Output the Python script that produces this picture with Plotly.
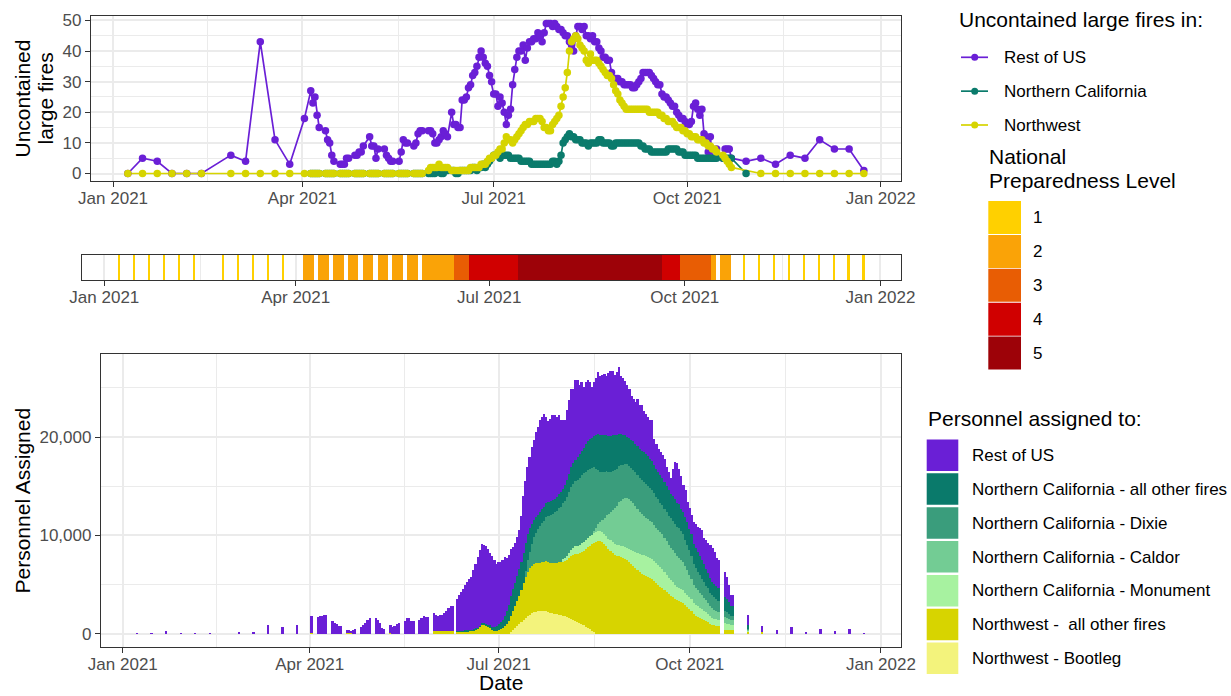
import pandas as pd
import plotly.graph_objects as go

W, H = 1231, 696
FONT = "Liberation Sans, Arial, sans-serif"

# ---------------- report dates ----------------
early_report_dates = ["2021-01-08", "2021-01-15", "2021-01-22", "2021-01-29", "2021-02-05",
                      "2021-02-12", "2021-02-26", "2021-03-05", "2021-03-12", "2021-03-19",
                      "2021-03-26", "2021-04-02"]
spring_report_span = ("2021-04-05", "2021-05-28")            # weekdays
summer_report_spans = [("2021-05-31", "2021-06-09"),          # daily
                       ("2021-06-11", "2021-10-15")]          # daily
autumn_report_span = ("2021-10-18", "2021-10-22")            # weekdays
late_report_dates = ["2021-10-29", "2021-11-05", "2021-11-12", "2021-11-19", "2021-11-26",
                     "2021-12-03", "2021-12-10", "2021-12-17", "2021-12-24"]

report_dates = (list(pd.to_datetime(early_report_dates))
                + list(pd.bdate_range(*spring_report_span))
                + list(pd.date_range(*summer_report_spans[0]))
                + list(pd.date_range(*summer_report_spans[1]))
                + list(pd.bdate_range(*autumn_report_span))
                + list(pd.to_datetime(late_report_dates)))


def flat(*parts):
    out = []
    for p in parts:
        out.extend(p)
    return out


# ---------------- uncontained large fires ----------------
rest_fires = flat(
    [0, 5, 4, 0, 0, 0, 6, 4, 43, 11, 3, 18],
    [27, 23, 25, 19, 15, 14, 11, 10, 6, 4, 3, 3, 3, 5, 5, 6, 6, 7, 7, 9,
     12, 9, 9, 5, 8, 8, 6, 5, 4, 4, 4, 7, 11, 10, 10, 9, 10, 13, 14, 14],
    [14, 14, 13, 10, 10, 11, 12, 14, 13, 12,
     20, 16, 16, 15, 15, 24, 24, 25, 28, 29,
     32, 33, 35, 38, 40, 38, 36, 35, 32, 30,
     26, 26, 22, 25, 23, 20, 16, 19, 21, 29,
     34, 38, 40, 40, 42, 37, 41, 43, 43, 44,
     44, 46, 45, 43, 46, 49, 49, 49, 48, 49,
     48, 47, 47, 46, 45, 45, 43, 42, 40, 45,
     48, 48, 47, 48, 45, 45, 44, 45, 43, 43,
     41, 40, 38, 38, 37, 37, 33, 31, 31, 31,
     30, 30, 29, 29, 29, 29, 28, 28, 29, 30,
     31, 33, 33, 33, 33, 32, 31, 30, 29, 29,
     26, 25, 25, 24, 23, 22, 22, 20, 19, 18,
     18, 17, 16, 16, 17, 22, 23, 21, 19, 21,
     13, 12, 7, 12, 5, 5, 8,
     5, 8, 8, 8, 5],
    [4, 5, 3, 6, 5, 11, 8, 8, 1])

nc_fires = flat(
    [None] * 12,
    [0] * 40,
    [0, 0, 0, 0, 1, 1, 0, 0, 1, 1,
     1, 1, 0, 0, 1, 1, 1, 1, 1, 1,
     2, 2, 1, 2, 2, 3, 2, 3, 4, 5,
     6, 6, 6, 5, 6, 6, 6, 6, 5, 5,
     5, 5, 5, 4, 4, 4, 4, 4, 3, 3,
     3, 3, 3, 3, 3, 3, 3, 3, 4, 4,
     3, 4, 6, 10, 11, 12, 13, 12, 12, 11,
     11, 11, 10, 10, 10, 9, 10, 10, 10, 10,
     11, 11, 10, 10, 10, 10, 9, 9, 10, 10,
     10, 10, 10, 10, 10, 10, 10, 10, 10, 10,
     9, 9, 8, 8, 8, 7, 7, 7, 7, 7,
     7, 7, 7, 8, 8, 8, 8, 8, 7, 7,
     7, 6, 6, 6, 6, 6, 6, 5, 5, 5,
     5, 5, 5, 5, 5, 5, 5,
     5, 5, 5, 5, 5],
    [0] + [None] * 8)

nw_fires = flat(
    [0] * 12,
    [0] * 40,
    [1, 2, 2, 2, 2, 3, 2, 2, 2, 2,
     1, 1, 1, 1, 1, 1, 1, 1, 1, 2,
     2, 2, 2, 2, 3, 3, 3, 4, 5, 5,
     6, 6, 7, 8, 8, 10, 12, 11, 11, 10,
     11, 12, 13, 14, 15, 16, 16, 17, 17, 17,
     18, 18, 18, 17, 15, 15, 14, 14, 16, 17,
     18, 19, 22, 25, 28, 33, 40, 43, 44, 45,
     44, 42, 41, 40, 37, 36, 39, 37, 37, 37,
     36, 35, 34, 33, 32, 32, 31, 29, 27, 26,
     24, 23, 22, 21, 21, 21, 21, 21, 21, 21,
     21, 21, 21, 21, 20, 20, 20, 20, 20, 19,
     19, 18, 18, 17, 17, 17, 16, 15, 15, 15,
     14, 14, 13, 13, 12, 12, 12, 11, 11, 11,
     10, 10, 9, 9, 8, 8, 7,
     6, 5, 4, 3, 2],
    [None] + [0] * 8)

fire_names = ["Rest of US", "Northern California", "Northwest"]
fire_colors = ["#6A1FD6", "#0B7B6C", "#D6D400"]
fire_values = [rest_fires, nc_fires, nw_fires]

# ---------------- personnel assigned ----------------
staff_bootleg = flat(
    [0] * 12, [0] * 40,
    [0] * 30,
    [0, 0, 0, 0, 0, 0, 200, 400, 600, 800,
     1000, 1200, 1400, 1600, 1800, 1950, 2100, 2200, 2250, 2270,
     2270, 2270, 2270, 2270, 2200, 2150, 2100, 2050, 2000, 1950,
     1900, 1850, 1800, 1700, 1600, 1450, 1350, 1250, 1150, 1050,
     950, 850, 700, 600, 450, 300, 150, 0, 0, 0],
    [0] * 62,
    [0] * 9)

staff_nw_other = flat(
    [0, 0, 0, 0, 0, 0, 0, 0, 0, 0, 0, 80],
    [0, 0, 0, 0, 0, 0, 0, 0, 0, 0, 80, 80, 60, 0, 0, 0, 0, 0, 0, 0,
     0, 0, 0, 0, 0, 50, 0, 0, 0, 0, 0, 0, 0, 0, 0, 0, 0, 0, 0, 0],
    [250, 250, 250, 250, 300, 300, 300, 300, 300, 300,
     250, 250, 250, 250, 250, 250, 300, 300, 350, 400,
     500, 700, 900, 900, 800, 700, 600, 400, 300, 250,
     400, 500, 600, 800, 1000, 1300, 1600, 1900, 2200, 2500,
     2800, 3200, 3800, 4200, 4500, 4700, 4800, 4900, 4900, 4900,
     4900, 5000, 5000, 5100, 5100, 5000, 5100, 5100, 5200, 5300,
     5400, 5500, 5600, 5800, 6100, 6500, 6700, 6900, 7000, 7200,
     7400, 7600, 7900, 8200, 8500, 8800, 9100, 9300, 9400, 9400,
     9300, 9100, 8900, 8600, 8400, 8200, 8000, 7900, 7900, 7800,
     7700, 7600, 7500, 7300, 7100, 6900, 6700, 6500, 6300, 6100,
     6000, 5900, 5800, 5700, 5600, 5400, 5200, 5000, 4800, 4600,
     4400, 4200, 4000, 3800, 3700, 3500, 3400, 3300, 3200, 3100,
     2900, 2700, 2500, 2300, 2000, 1800, 1700, 1600, 1500, 1400,
     1300, 1200, 1000, 900, 850, 800, 750,
     400, 400, 400, 350, 350],
    [200, 200, 0, 0, 0, 0, 0, 0, 0])

staff_monument = flat(
    [0] * 12, [0] * 40,
    [0] * 60,
    [0, 200, 300, 400, 500, 600, 700, 750, 800, 800,
     850, 850, 900, 900, 950, 950, 1000, 1000, 1000, 1000,
     1000, 1000, 1050, 1050, 1100, 1100, 1100, 1100, 1150, 1150,
     1200, 1200, 1250, 1300, 1400, 1500, 1600, 1700, 1800, 1900,
     2000, 2000, 2000, 2000, 2000, 2000, 2000, 2000, 2000, 2000,
     1900, 1800, 1700, 1650, 1600, 1500, 1400, 1350, 1300, 1300,
     1250, 1250, 1200, 1200, 1150, 1150, 1100, 1050, 1000, 950,
     900, 800, 750, 700, 650, 650, 600,
     650, 600, 550, 500, 500],
    [100, 0, 0, 0, 0, 0, 0, 0, 0])

staff_caldor = flat(
    [0] * 12, [0] * 40,
    [0] * 70,
    [0, 0, 0, 0, 0, 0, 200, 500, 800, 1000,
     1300, 1700, 2100, 2500, 2900, 3300, 3700, 4000, 4300, 4600,
     4800, 5000, 5100, 5100, 5000, 4900, 4700, 4500, 4300, 4200,
     4000, 3900, 3900, 3800, 3800, 3700, 3600, 3600, 3500, 3500,
     3400, 3400, 3300, 3300, 3200, 3200, 3100, 3100, 3000, 2900,
     2700, 2500, 2300, 2100, 1800, 1700, 1600, 1500, 1400, 1300,
     1200, 1150, 1050, 1000, 950, 900, 850,
     650, 600, 550, 500, 500],
    [100, 0, 0, 0, 0, 0, 0, 0, 0])

staff_dixie = flat(
    [0] * 12, [0] * 40,
    [0] * 40,
    [0, 0, 0, 600, 1200, 1700, 2200, 2700, 3100, 3500,
     3800, 4000, 4200, 4500, 4700, 4900, 5000, 5200, 5300, 5500,
     5600, 5700, 5800, 6000, 6200, 6400, 6500, 6600, 6700, 6800,
     6900, 7000, 7000, 7000, 6900, 6800, 6500, 6000, 5500, 5100,
     4900, 4700, 4500, 4300, 4100, 4000, 3900, 3800, 3700, 3600,
     3500, 3500, 3400, 3400, 3400, 3400, 3400, 3400, 3400, 3400,
     3400, 3400, 3300, 3300, 3200, 3200, 3100, 3100, 3000, 3000,
     3000, 3000, 3000, 3000, 3000, 3000, 3000, 3000, 2900, 2800,
     2700, 2600, 2500, 2300, 2100, 2000, 1900, 1800, 1700, 1600,
     1500, 1450, 1350, 1300, 1250, 1200, 1150,
     650, 600, 550, 500, 500],
    [100, 0, 0, 0, 0, 0, 0, 0, 0])

staff_nc_other = flat(
    [0] * 12, [0] * 40,
    [0, 0, 0, 0, 0, 0, 0, 0, 0, 0,
     50, 50, 50, 50, 100, 100, 100, 100, 150, 150,
     100, 100, 150, 150, 200, 200, 250, 300, 400, 500,
     600, 700, 800, 1000, 1300, 1600, 2000, 2200, 2400, 2600,
     2800, 2900, 3000, 2800, 2600, 2400, 2100, 1800, 1600, 1400,
     1400, 1400, 1400, 1400, 1400, 1400, 1400, 1400, 1400, 1450,
     1500, 1500, 1600, 1700, 1800, 2000, 2100, 2200, 2300, 2400,
     2500, 2600, 2800, 2900, 3000, 3100, 3200, 3400, 3600, 3700,
     3700, 3700, 3700, 3700, 3600, 3600, 3500, 3400, 3300, 3200,
     3000, 2900, 2800, 2800, 2800, 2900, 2900, 3000, 3000, 3000,
     3100, 3100, 3100, 3000, 3000, 2900, 2900, 2800, 2800, 2700,
     2700, 2600, 2600, 2500, 2500, 2500, 2400, 2400, 2300, 2300,
     2300, 2300, 2200, 2200, 2100, 2100, 2000, 2000, 1900, 1800,
     1700, 1600, 1500, 1400, 1400, 1350, 1300,
     1350, 1300, 1200, 1000, 1000],
    [400, 0, 0, 0, 0, 0, 0, 0, 0])

staff_rest = flat(
    [30, 60, 300, 30, 40, 20, 150, 170, 900, 700, 850, 1700],
    [1650, 1750, 1850, 1900, 1900, 1250, 1100, 950, 820, 800,
     250, 250, 250, 400, 500, 700, 880, 1120, 1380, 1560,
     1560, 1380, 1050, 620, 500, 800, 720, 740, 950, 1080,
     1300, 1600, 1600, 1320, 1320, 1420, 1600, 1830, 1700, 1700],
    [1850, 1680, 1510, 1610, 1600, 1800, 2040, 2310, 2480, 2540,
     3200, 3660, 3900, 4200, 4620, 4950, 5200, 5400, 6000, 6540,
     7200, 7700, 8050, 7950, 7950, 7700, 7350, 7240, 6800, 6340,
     6260, 6060, 6100, 5970, 5400, 5100, 4820, 4300, 4000, 3900,
     3900, 4700, 5800, 6300, 6900, 7250, 7800, 8100, 8650, 8930,
     9330, 9330, 9530, 8730, 8200, 8350, 8600, 8450, 8100, 8000,
     7300, 6950, 6600, 7200, 7540, 7980, 7550, 8080, 7830, 7050,
     7000, 6200, 6300, 6180, 5800, 5150, 5450, 5800, 6290, 6050,
     6100, 6200, 6000, 6350, 6660, 6500, 6100, 6400, 6750, 5900,
     5800, 5500, 5250, 5000, 4500, 4300, 4300, 4800, 4440, 4640,
     4200, 4100, 3900, 3900, 4100, 2600, 2500, 2300, 2400, 2340,
     2400, 2000, 1800, 1540, 2800, 3790, 4100, 3650, 3300, 2720,
     2750, 2080, 2100, 1980, 2250, 2450, 2600, 2790, 3000, 2710,
     2900, 3000, 3350, 3400, 3200, 2830, 2850,
     2600, 2300, 1750, 1050, 1050],
    [1030, 540, 400, 640, 130, 470, 300, 470, 50])

# stacking order: bottom -> top
staff_names = ["Northwest - Bootleg", "Northwest -  all other fires",
               "Northern California - Monument", "Northern California - Caldor",
               "Northern California - Dixie", "Northern California - all other fires",
               "Rest of US"]
staff_colors = ["#F3F37C", "#D7D400", "#A7F2A0", "#73CC94", "#3A9D7C", "#0A7A6B", "#6A1FD6"]
staff_values = [staff_bootleg, staff_nw_other, staff_monument, staff_caldor,
                staff_dixie, staff_nc_other, staff_rest]

for v in fire_values + staff_values:
    assert len(v) == len(report_dates), len(v)

# ---------------- national preparedness level ----------------
pl_levels = [1, 2, 3, 4, 5]
pl_colors = ["#FFD000", "#FAA307", "#E85D04", "#D00000", "#9D0208"]
pl_weekly_level1 = ["2021-01-08", "2021-01-15", "2021-01-22", "2021-01-29", "2021-02-05",
                    "2021-02-12", "2021-02-26", "2021-03-05", "2021-03-12", "2021-03-19",
                    "2021-03-26"] + late_report_dates
pl_weekday_runs = [("2021-04-05", "2021-05-28", 2), ("2021-10-18", "2021-10-22", 2)]
pl_daily_runs = [("2021-05-31", "2021-06-14", 2), ("2021-06-15", "2021-06-21", 3),
                 ("2021-06-22", "2021-07-14", 4), ("2021-07-15", "2021-09-20", 5),
                 ("2021-09-21", "2021-09-28", 4), ("2021-09-29", "2021-10-13", 3),
                 ("2021-10-14", "2021-10-15", 2)]

pl_dates, pl_vals = [], []
for d in pl_weekly_level1:
    pl_dates.append(pd.Timestamp(d)); pl_vals.append(1)
for a, b, lv in pl_weekday_runs:
    for d in pd.bdate_range(a, b):
        pl_dates.append(d); pl_vals.append(lv)
for a, b, lv in pl_daily_runs:
    for d in pd.date_range(a, b):
        pl_dates.append(d); pl_vals.append(lv)

# ---------------- figure ----------------
DAY_MS = 86400000
fig = go.Figure()

# top: lines under points
for name, vals, col in zip(fire_names, fire_values, fire_colors):
    fig.add_trace(go.Scatter(x=report_dates, y=vals, mode="lines", name=name,
                             line=dict(color=col, width=1.7), connectgaps=True,
                             xaxis="x", yaxis="y", showlegend=False, hoverinfo="skip"))
for name, vals, col in zip(fire_names, fire_values, fire_colors):
    fig.add_trace(go.Scatter(x=report_dates, y=vals, mode="markers", name=name,
                             marker=dict(color=col, size=7.5, line=dict(width=0)),
                             xaxis="x", yaxis="y", showlegend=False))

# middle: preparedness strip
for lv, col in zip(pl_levels, pl_colors):
    xs = [d for d, v in zip(pl_dates, pl_vals) if v == lv]
    fig.add_trace(go.Bar(x=xs, y=[1] * len(xs), base=0, width=[DAY_MS] * len(xs),
                         marker=dict(color=col, line=dict(width=0)), name=str(lv),
                         xaxis="x2", yaxis="y2", showlegend=False))

# bottom: stacked personnel
for name, vals, col in zip(staff_names, staff_values, staff_colors):
    fig.add_trace(go.Bar(x=report_dates, y=vals, width=[0.9 * DAY_MS] * len(report_dates),
                         marker=dict(color=col, line=dict(width=0)), name=name,
                         xaxis="x3", yaxis="y3", showlegend=False))


def px(x):
    return x / W


def py(y):
    return 1 - y / H


x_range = ["2020-12-21 12:00", "2022-01-10 16:00"]
minor_dates = ["2021-02-15", "2021-05-16 12:00", "2021-08-16", "2021-11-16"]
GRID = "#EBEBEB"
BORDER = "#333333"
TICKFONT = dict(family=FONT, size=17, color="#4D4D4D")


def xax(l, r, anchor):
    return dict(domain=[px(l), px(r)], anchor=anchor, type="date", range=x_range,
                tick0="2021-01-01", dtick="M3", tickformat="%b %Y",
                ticks="outside", ticklen=5, tickwidth=1.2, tickcolor=BORDER,
                ticklabelstandoff=-4,
                showline=True, mirror=True, linecolor=BORDER, linewidth=1.3,
                showgrid=True, gridcolor=GRID, gridwidth=1.5, zeroline=False,
                automargin=False,
                minor=dict(tickmode="array", tickvals=minor_dates, showgrid=True,
                           gridcolor=GRID, gridwidth=0.8, ticks=""),
                tickfont=TICKFONT)


def yax(t, b, anchor, **kw):
    d = dict(domain=[py(b), py(t)], anchor=anchor, ticks="outside", ticklen=5,
             tickwidth=1.2, tickcolor=BORDER, showline=True, mirror=True,
             linecolor=BORDER, linewidth=1.3, showgrid=True, gridcolor=GRID,
             gridwidth=1.5, zeroline=False, automargin=False, tickfont=TICKFONT)
    d.update(kw)
    return d


layout = dict(
    width=W, height=H, autosize=False,
    margin=dict(l=0, r=0, t=0, b=0, pad=0, autoexpand=False),
    paper_bgcolor="white", plot_bgcolor="white",
    barmode="stack", bargap=0, showlegend=False,
    font=dict(family=FONT, color="black"),
    xaxis=xax(91, 901, "y"),
    yaxis=yax(16, 181, "x", range=[-2.45, 51.45], tickvals=[0, 10, 20, 30, 40, 50],
              minor=dict(dtick=5, tick0=0, showgrid=True, gridcolor=GRID, gridwidth=0.8, ticks="")),
    xaxis2=xax(82, 901, "y2"),
    yaxis2=dict(domain=[py(280), py(255)], anchor="x2", range=[0, 1], showticklabels=False,
                ticks="", showgrid=False, zeroline=False, showline=True, mirror=True,
                linecolor=BORDER, linewidth=1.3, automargin=False),
    xaxis3=xax(101, 901, "y3"),
    yaxis3=yax(354, 647, "x3", range=[-1355, 28455], tickvals=[0, 10000, 20000],
               tickformat=",",
               minor=dict(dtick=5000, tick0=0, showgrid=True, gridcolor=GRID, gridwidth=0.8, ticks="")),
)
fig.update_layout(**layout)

ann = []
shapes = []


def text(x, y, s, size=17, xanchor="left", angle=0, color="black"):
    ann.append(dict(x=px(x), y=py(y), xref="paper", yref="paper", text=s, showarrow=False,
                    xanchor=xanchor, yanchor="middle", textangle=angle, borderpad=0,
                    font=dict(family=FONT, size=size, color=color)))


# axis titles
text(22, 98.5, "Uncontained", 21, "center", -90)
text(45, 98.5, "large fires", 21, "center", -90)
text(22, 500.5, "Personnel Assigned", 21, "center", -90)
text(501, 682, "Date", 21, "center")

# legend: uncontained fires
text(958, 19.5, "Uncontained large fires in:", 21)
for i, (name, col) in enumerate(zip(fire_names, fire_colors)):
    yy = 57.3 + i * 33.85
    shapes.append(dict(type="line", xref="paper", yref="paper", x0=px(961), x1=px(988),
                       y0=py(yy), y1=py(yy), line=dict(color=col, width=1.7)))
    shapes.append(dict(type="circle", xref="paper", yref="paper", x0=px(971.2), x1=px(978.2),
                       y0=py(yy + 3.5), y1=py(yy - 3.5), fillcolor=col, line=dict(width=0)))
    text(1002.5, yy, name, 17)

# legend: preparedness level
text(987.5, 156.7, "National", 21)
text(987.5, 180.5, "Preparedness Level", 21)
for i, (lv, col) in enumerate(zip(pl_levels, pl_colors)):
    top = 201 + i * 33.9
    shapes.append(dict(type="rect", xref="paper", yref="paper", x0=px(988.3), x1=px(1021),
                       y0=py(top + 33), y1=py(top), fillcolor=col, line=dict(width=0)))
    text(1031.5, top + 16.8, str(lv), 17)

# legend: personnel
text(926.5, 418.3, "Personnel assigned to:", 21)
for i, (name, col) in enumerate(zip(staff_names[::-1], staff_colors[::-1])):
    top = 439.5 + i * 33.85
    shapes.append(dict(type="rect", xref="paper", yref="paper", x0=px(926.7), x1=px(958.3),
                       y0=py(top + 31.5), y1=py(top), fillcolor=col, line=dict(width=0)))
    text(970.5, top + 16, name, 17)

fig.update_layout(annotations=ann, shapes=shapes)

fig.write_html("out.html", config={"displayModeBar": False},
               post_script="document.body.style.margin='0';")
